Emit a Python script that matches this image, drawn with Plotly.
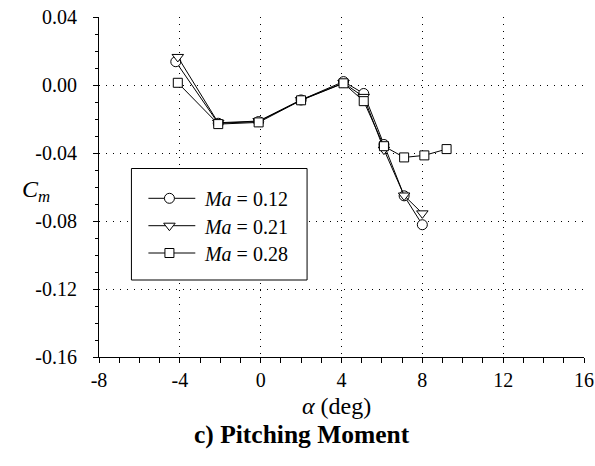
import plotly.graph_objects as go

# Data
alpha_012 = [-4.2, -2.1, -0.1, 2.0, 4.1, 5.1, 6.1, 7.1, 8.0]
cm_012 = [0.0137, -0.0225, -0.0215, -0.0088, 0.0020, -0.0050, -0.0350, -0.0652, -0.0822]

alpha_021 = [-4.1, -2.1, -0.1, 2.0, 4.1, 5.1, 6.1, 7.1, 8.0]
cm_021 = [0.0165, -0.0222, -0.0212, -0.0088, 0.0012, -0.0070, -0.0380, -0.0650, -0.0755]

alpha_028 = [-4.1, -2.1, -0.1, 2.0, 4.1, 5.1, 6.1, 7.1, 8.1, 9.2]
cm_028 = [0.0013, -0.0230, -0.0220, -0.0090, 0.0010, -0.0095, -0.0360, -0.0426, -0.0414, -0.0377]

series_names = ["<i>Ma</i> = 0.12", "<i>Ma</i> = 0.21", "<i>Ma</i> = 0.28"]
x_ticks = [-8, -4, 0, 4, 8, 12, 16]
y_ticks = [0.04, 0.00, -0.04, -0.08, -0.12, -0.16]
y_tick_text = ["0.04", "0.00", "-0.04", "-0.08", "-0.12", "-0.16"]

FONT = "Liberation Serif, Times New Roman, serif"

W, H = 595, 466
# plot area in window pixels
PL, PR, PT, PB = 98.5, 584.5, 17.0, 357.0
def px_x(p):
    return (p - PL) / (PR - PL)
def px_y(p):
    return (PB - p) / (PB - PT)

fig = go.Figure()
specs = [
    (alpha_012, cm_012, "circle", 10, "legend"),
    (alpha_021, cm_021, "triangle-down", 10, "legend2"),
    (alpha_028, cm_028, "square", 9, "legend3"),
]
for (xs, ys, sym, sz, lg), name in zip(specs, series_names):
    mk = dict(symbol=sym, size=sz, color="white", line=dict(width=1, color="black"))
    fig.add_trace(go.Scatter(
        x=xs, y=ys, name=name, mode="lines+markers", showlegend=False,
        line=dict(color="black", width=1), marker=mk,
    ))
    # legend-only entry (symbol drawn by the legend, the sample line is a layout shape)
    fig.add_trace(go.Scatter(
        x=[None], y=[None], name=name, mode="markers", legend=lg,
        marker=mk, showlegend=True, hoverinfo="skip",
    ))

row_y = [198.3, 225.7, 253.0]
legend_common = dict(
    xanchor="left", yanchor="middle",
    bgcolor="rgba(0,0,0,0)", borderwidth=0, itemwidth=61,
    font=dict(family=FONT, size=20, color="black"),
)

shapes = [
    dict(type="rect", xref="paper", yref="paper",
         x0=px_x(131), x1=px_x(307), y0=px_y(280), y1=px_y(168.5),
         line=dict(color="black", width=1), fillcolor="white", layer="above"),
]
for ry in row_y:
    shapes.append(dict(type="line", xref="paper", yref="paper",
                       x0=px_x(148), x1=px_x(195), y0=px_y(ry), y1=px_y(ry),
                       line=dict(color="black", width=1), layer="above"))

fig.update_layout(
    width=W, height=H,
    margin=dict(l=PL, r=W - PR, t=PT, b=H - PB, autoexpand=False),
    paper_bgcolor="white", plot_bgcolor="white",
    font=dict(family=FONT, size=20, color="black"),
    showlegend=True,
    legend=dict(x=px_x(133.5), y=px_y(row_y[0]), **legend_common),
    legend2=dict(x=px_x(133.5), y=px_y(row_y[1]), **legend_common),
    legend3=dict(x=px_x(133.5), y=px_y(row_y[2]), **legend_common),
    xaxis=dict(
        range=[-8, 16.0001], tickvals=x_ticks, ticktext=[str(v) for v in x_ticks],
        showline=True, linecolor="black", linewidth=1,
        ticks="outside", ticklen=5, tickcolor="black", tickwidth=1,
        minor=dict(dtick=1, ticks="outside", ticklen=5, tickcolor="black", showgrid=False),
        showgrid=True, gridcolor="black", gridwidth=1, griddash="1px,6px",
        zeroline=False, tickfont=dict(family=FONT, size=20),
        ticklabeloverflow="allow", automargin=False,
    ),
    yaxis=dict(
        range=[-0.16, 0.0400001], tickvals=y_ticks, ticktext=y_tick_text,
        showline=True, linecolor="black", linewidth=1,
        ticks="outside", ticklen=5, tickcolor="black", tickwidth=1,
        minor=dict(dtick=0.01, ticks="outside", ticklen=3, tickcolor="black", showgrid=False),
        showgrid=True, gridcolor="black", gridwidth=1, griddash="1px,6px",
        zeroline=False, tickfont=dict(family=FONT, size=20), ticklabelstandoff=12,
        ticklabeloverflow="allow", automargin=False,
    ),
    shapes=shapes,
    annotations=[
        dict(text="<i>C</i><sub><i>m</i></sub>", xref="paper", yref="paper",
             x=px_x(35), y=px_y(191), xanchor="center", yanchor="middle",
             showarrow=False, font=dict(family=FONT, size=24)),
        dict(text="<i>α</i> (deg)", xref="paper", yref="paper",
             x=px_x(336.5), y=px_y(406), xanchor="center", yanchor="middle",
             showarrow=False, font=dict(family=FONT, size=24)),
        dict(text="<b>c) Pitching Moment</b>", xref="paper", yref="paper",
             x=px_x(301.5), y=px_y(434), xanchor="center", yanchor="middle",
             showarrow=False, font=dict(family=FONT, size=25.5)),
    ],
)

fig.write_html("out.html", config={"displayModeBar": False},
               post_script="document.body.style.margin='0';")
